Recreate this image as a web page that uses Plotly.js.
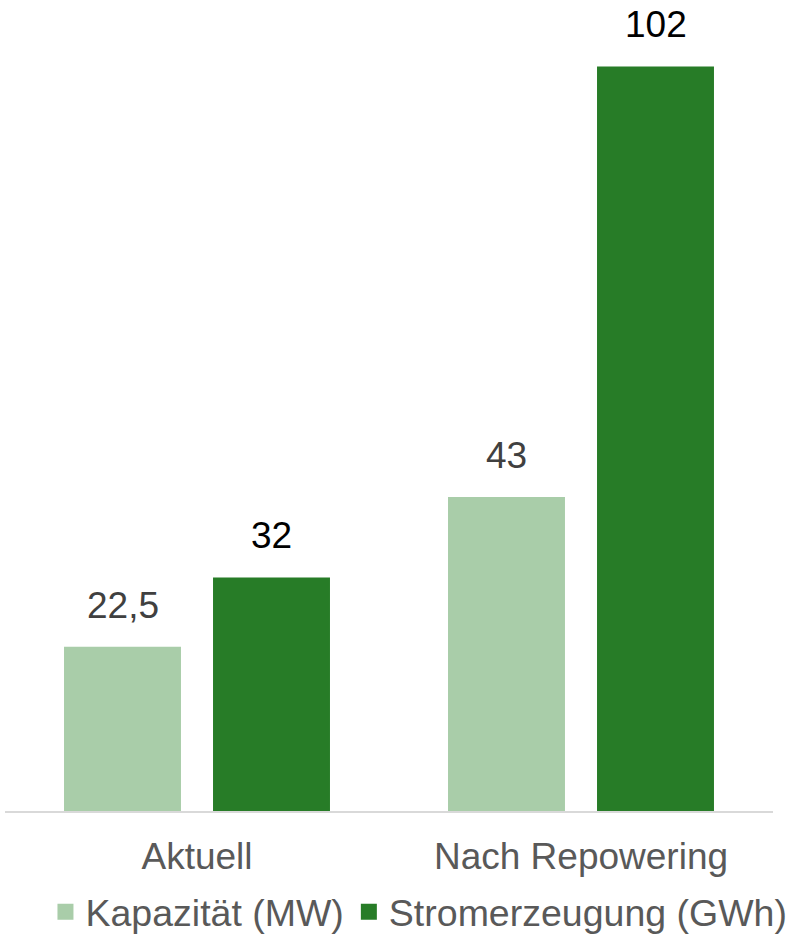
<!DOCTYPE html>
<html>
<head>
<meta charset="utf-8">
<script src="https://cdn.plot.ly/plotly-3.0.1.min.js"></script>
<style>html,body{margin:0;padding:0;background:#fff;}#chart{width:795px;height:934px;}</style>
</head>
<body>
<div id="chart"></div>
<script>
const categories = ['Aktuell', 'Nach Repowering'];
const seriesNames = ['Kapazität (MW)', 'Stromerzeugung (GWh)'];
const kapazitaet = [22.5, 43];
const stromerzeugung = [32, 102];

const colors = ['#a9cda9', '#277c27'];
const labelColors = ['#404040', '#000000'];
const values = [kapazitaet, stromerzeugung];

const traces = values.map((vals, i) => ({
  type: 'bar',
  x: categories,
  y: vals,
  name: seriesNames[i],
  marker: {color: colors[i]},
  showlegend: false,
  hoverinfo: 'x+y+name'
}));

// legend-only entries with larger square symbols
seriesNames.forEach((n, i) => {
  traces.push({
    type: 'scatter', mode: 'markers', x: [null], y: [null], name: n,
    marker: {symbol: 'square', size: 20, color: colors[i]},
    showlegend: true, hoverinfo: 'skip'
  });
});

const barOffsetPx = 74.5;
const annotations = [];
values.forEach((vals, i) => {
  vals.forEach((v, j) => {
    annotations.push({
      x: j, y: v, xref: 'x', yref: 'y',
      text: String(v).replace('.', ','),
      showarrow: false, yanchor: 'bottom',
      xshift: i === 0 ? -barOffsetPx : barOffsetPx,
      yshift: 19,
      font: {family: 'Liberation Sans, Arial, sans-serif', size: 37, color: labelColors[i]}
    });
  });
});

const layout = {
  width: 795, height: 934,
  margin: {l: 5, r: 22, t: 8, b: 123},
  paper_bgcolor: '#ffffff', plot_bgcolor: '#ffffff',
  barmode: 'group', bargap: 0.224, bargroupgap: 0.215,
  font: {family: 'Liberation Sans, Arial, sans-serif', size: 37, color: '#595959'},
  xaxis: {
    type: 'category', range: [-0.5, 1.5],
    showline: true, linecolor: '#d9d9d9', linewidth: 2,
    ticks: '', showgrid: false, zeroline: false,
    tickfont: {size: 37, color: '#595959'},
    ticklabelstandoff: 12
  },
  yaxis: {range: [0, 110], visible: false, showgrid: false, zeroline: false, fixedrange: true},
  showlegend: true,
  legend: {
    orientation: 'h', xref: 'container', yref: 'container',
    x: 0.527, xanchor: 'center', y: 0.0236, yanchor: 'middle',
    font: {size: 37.5, color: '#595959'},
    itemwidth: 30, tracegroupgap: 0
  },
  annotations: annotations
};

Plotly.newPlot('chart', traces, layout, {displayModeBar: false, staticPlot: true});
</script>
</body>
</html>
